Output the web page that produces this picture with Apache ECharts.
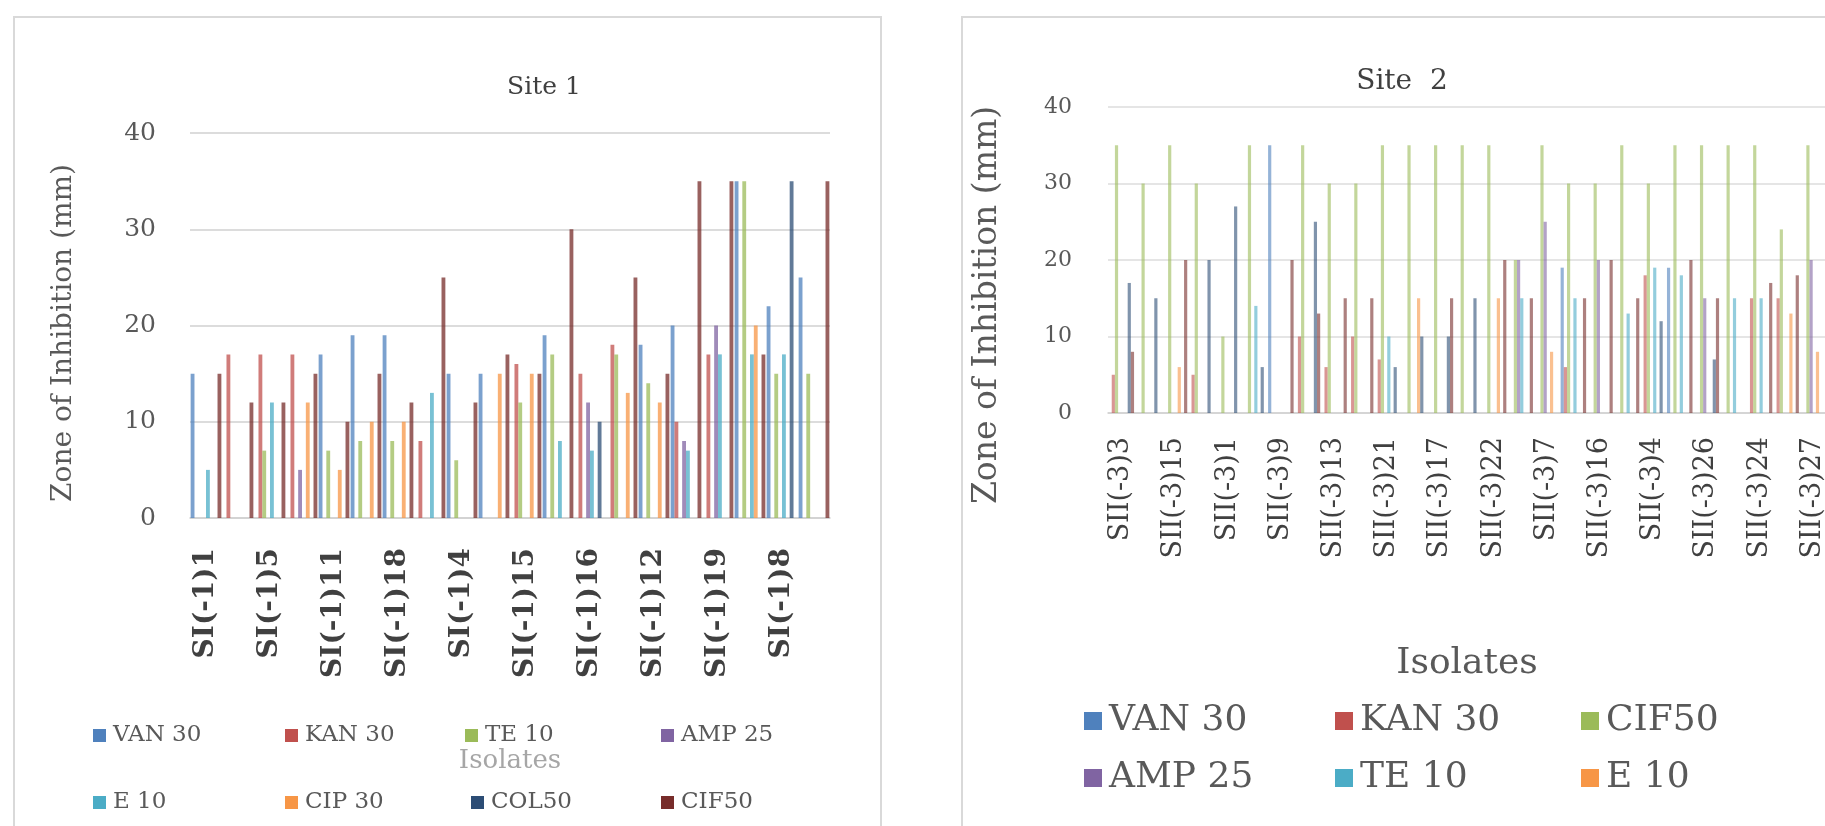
<!DOCTYPE html>
<html><head><meta charset="utf-8">
<script src="https://cdn.jsdelivr.net/npm/echarts@6.0.0/dist/echarts.min.js"></script>
<style>
html,body{margin:0;padding:0;background:#fff;width:1825px;height:826px;overflow:hidden;position:relative}
#c1{position:absolute;left:14px;top:17px;width:867px;height:830px}
#c2{position:absolute;left:962px;top:17px;width:870px;height:830px}
.frame{position:absolute;border:2px solid #d9d9d9;box-sizing:border-box;pointer-events:none}
#f1{left:13px;top:16px;width:869px;height:840px}
#f2{left:961px;top:16px;width:900px;height:840px}
</style></head><body>
<div id="c1"></div><div id="c2"></div>
<div class="frame" id="f1"></div><div class="frame" id="f2"></div>
<script>
// ---------- Site 1 data ----------
const site1Title = 'Site 1';
const site1Categories = ['SI(-1)1','SI(-1)2','SI(-1)5','SI(-1)3','SI(-1)11','SI(-1)6','SI(-1)18','SI(-1)7',
  'SI(-1)4','SI(-1)9','SI(-1)15','SI(-1)10','SI(-1)16','SI(-1)13','SI(-1)12','SI(-1)14',
  'SI(-1)19','SI(-1)17','SI(-1)8','SI(-1)20'];
const site1SeriesNames = ['VAN 30','KAN 30','TE 10','AMP 25','E 10','CIP 30','COL50','CIF50'];
const s1_VAN30 = [15,0,0,0,17,19,19,0,15,15,0,19,0,0,18,20,0,35,22,25];
const s1_KAN30 = [0,17,17,17,0,0,0,8,0,0,16,0,15,18,0,10,17,0,0,0];
const s1_TE10  = [0,0,7,0,7,8,8,0,6,0,12,17,0,17,14,0,0,35,15,15];
const s1_AMP25 = [0,0,0,5,0,0,0,0,0,0,0,0,12,0,0,8,20,0,0,0];
const s1_E10   = [5,0,12,0,0,0,0,13,0,0,0,8,7,0,0,7,17,17,17,0];
const s1_CIP30 = [0,0,0,12,5,10,10,0,0,15,15,0,0,13,12,0,0,20,0,0];
const s1_COL50 = [0,0,0,0,0,0,0,0,0,0,0,0,10,0,0,0,0,0,35,0];
const s1_CIF50 = [15,12,12,15,10,15,12,25,12,17,15,30,0,25,15,35,35,17,0,35];
const site1Values = [s1_VAN30,s1_KAN30,s1_TE10,s1_AMP25,s1_E10,s1_CIP30,s1_COL50,s1_CIF50];

// ---------- Site 2 data ----------
const site2Title = 'Site  2';
const site2Categories = ['SII(-3)3','SII(-3)2','SII(-3)15','SII(-3)5','SII(-3)1','SII(-3)6','SII(-3)9','SII(-3)8',
  'SII(-3)13','SII(-3)10','SII(-3)21','SII(-3)11','SII(-3)17','SII(-3)12','SII(-3)22','SII(-3)14',
  'SII(-3)7','SII(-3)18','SII(-3)16','SII(-3)19','SII(-3)4','SII(-3)20','SII(-3)26','SII(-3)23',
  'SII(-3)24','SII(-3)25','SII(-3)27'];
const site2SeriesNames = ['VAN 30','KAN 30','CIF50','AMP 25','TE 10','E 10','COL50','CIP 30'];
const s2_VAN30 = [0,0,0,0,0,0,35,0,0,0,0,0,0,0,0,0,0,19,0,0,0,19,0,0,0,0,0];
const s2_KAN30 = [5,0,0,5,0,0,0,10,6,10,7,0,0,0,0,0,0,6,0,0,18,0,0,0,15,15,0];
const s2_CIF50 = [35,30,35,30,10,35,0,35,30,30,35,35,35,35,35,20,35,30,30,35,30,35,35,35,35,24,35];
const s2_AMP25 = [0,0,0,0,0,0,0,0,0,0,0,0,0,0,0,20,25,0,20,0,0,0,15,0,0,0,20];
const s2_TE10  = [0,0,0,0,0,14,0,0,0,0,10,0,0,0,0,15,0,15,0,13,19,18,0,15,15,0,0];
const s2_E10   = [0,0,6,0,0,0,0,0,0,0,0,15,0,0,15,0,8,0,0,0,0,0,0,0,0,13,8];
const s2_COL50 = [17,15,0,20,27,6,0,25,0,0,6,10,10,15,0,0,0,0,0,0,12,0,7,0,0,0,0];
const s2_CIP30 = [8,0,20,0,0,0,20,13,15,15,0,0,15,0,20,15,0,15,20,15,0,20,15,0,17,18,0];
const site2Values = [s2_VAN30,s2_KAN30,s2_CIF50,s2_AMP25,s2_TE10,s2_E10,s2_COL50,s2_CIP30];

const yTicks = [0,10,20,30,40];
const yAxisTitle = 'Zone of Inhibition (mm)';
const xAxisTitle = 'Isolates';

// ---------- styling ----------
const palette = ['#4F81BD','#C0504D','#9BBB59','#8064A2','#4BACC6','#F79646','#2C4D75','#772C2A'];
const FONT = 'DejaVu Serif';

function buildOption(cfg, cats, names, values){
  const series = names.map((n,i)=>({
    name:n, type:'bar', data:values[i], barGap:'0%', barCategoryGap:'4%',
    itemStyle:{color:palette[i], opacity:cfg.barOpacity}, silent:true
  }));
  const legends = names.map((n,i)=>({
    data:[n], left:cfg.legendPos[i][0], top:cfg.legendPos[i][1], padding:0,
    icon:'rect', itemWidth:cfg.legendMarker, itemHeight:cfg.legendMarker, itemGap:0,
    itemStyle:{opacity:1},
    textStyle:{fontFamily:FONT, fontSize:cfg.legendFont, color:'#595959', padding:[0,0,0,2]},
    selectedMode:false
  }));
  return {
    animation:false,
    backgroundColor:'#ffffff',
    title:{text:cfg.title, left:cfg.titleX, top:cfg.titleY, textAlign:'center',
      textStyle:{fontFamily:FONT, fontSize:cfg.titleFont, fontWeight:'normal', color:'#404040'}},
    legend:legends,
    grid:{left:cfg.grid[0], top:cfg.grid[1], width:cfg.grid[2], height:cfg.grid[3], containLabel:false},
    xAxis:{type:'category', data:cats,
      axisTick:{show:false},
      axisLine:{lineStyle:{color:'#d0d0d0', width:1.5}},
      axisLabel:{interval:1, rotate:90, margin:cfg.xLabelMargin, fontFamily:FONT, fontSize:cfg.xLabelFont,
        fontWeight:cfg.xLabelWeight, color:'#404040'},
      name:xAxisTitle, nameLocation:'middle', nameGap:cfg.xNameGap,
      nameTextStyle:{fontFamily:FONT, fontSize:cfg.xNameFont, color:cfg.xNameColor}
    },
    yAxis:{type:'value', min:yTicks[0], max:yTicks[yTicks.length-1], interval:yTicks[1]-yTicks[0],
      axisLine:{show:false}, axisTick:{show:false},
      splitLine:{lineStyle:{color:'#dcdcdc', width:cfg.gridWidth}},
      axisLabel:{margin:cfg.yLabelMargin, fontFamily:FONT, fontSize:cfg.yLabelFont, color:'#595959'}
    },
    graphic:[{type:'text', x:cfg.yNamePos[0], y:cfg.yNamePos[1], rotation:Math.PI/2,
      style:{text:yAxisTitle, fontFamily:FONT, fontSize:cfg.yNameFont, fill:'#595959', align:'center', verticalAlign:'middle'}}],
    series:series
  };
}

const cfg1 = {
  title:site1Title, titleX:525, titleY:53, titleFont:25,
  grid:[176,116,640,385], gridWidth:2, barOpacity:0.75,
  xLabelMargin:30, xLabelFont:28, xLabelWeight:'bold',
  xNameGap:230, xNameFont:26, xNameColor:'#a6a6a6',
  yLabelMargin:34, yLabelFont:25,
  yNamePos:[50,316], yNameFont:28,
  legendFont:23, legendMarker:13,
  legendPos:[[79,707],[271,707],[451,707],[647,707],[79,774],[271,774],[457,774],[647,774]]
};
const cfg2 = {
  title:site2Title, titleX:435, titleY:46, titleFont:28,
  grid:[146,90,718,306], gridWidth:1.5, barOpacity:0.6,
  xLabelMargin:24, xLabelFont:27, xLabelWeight:'normal',
  xNameGap:233, xNameFont:36, xNameColor:'#595959',
  yLabelMargin:36, yLabelFont:22,
  yNamePos:[25,288], yNameFont:33,
  legendFont:36, legendMarker:18,
  legendPos:[[122,686],[373,686],[619,686],[122,743],[373,743],[619,743],[122,900],[373,900]]
};

const ch1 = echarts.init(document.getElementById('c1'), null, {renderer:'canvas'});
ch1.setOption(buildOption(cfg1, site1Categories, site1SeriesNames, site1Values));
const ch2 = echarts.init(document.getElementById('c2'), null, {renderer:'canvas'});
ch2.setOption(buildOption(cfg2, site2Categories, site2SeriesNames, site2Values));
</script></body></html>
